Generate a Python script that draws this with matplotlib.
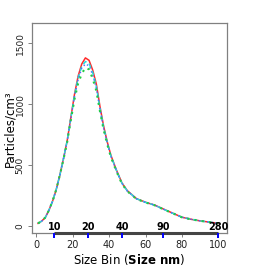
import numpy as np
import matplotlib.pyplot as plt

# size bins (x) and particle number concentration for the four runs
x = [1, 3, 5, 7, 9, 11, 13, 15, 17, 19, 21, 23, 25, 27, 29, 31, 33, 35,
     37, 39, 41, 44, 47, 50, 55, 60, 65, 70, 75, 80, 85, 90, 95, 100]
red = [22, 40, 70, 130, 205, 300, 420, 555, 700, 890, 1080, 1230, 1330, 1380,
       1360, 1280, 1165, 980, 820, 690, 580, 460, 355, 290, 225, 195, 172, 138,
       105, 72, 55, 42, 32, 22]
cyan = [22, 40, 70, 130, 205, 300, 420, 555, 700, 885, 1070, 1215, 1310, 1350,
        1335, 1260, 1145, 965, 810, 685, 575, 458, 353, 288, 224, 194, 171, 137,
        104, 72, 55, 42, 32, 22]
blue = [22, 40, 70, 130, 205, 300, 420, 555, 700, 880, 1060, 1200, 1295, 1330,
        1315, 1240, 1130, 955, 800, 680, 572, 455, 352, 287, 224, 194, 171, 137,
        104, 72, 55, 42, 32, 22]
green = [22, 40, 70, 130, 205, 300, 420, 550, 690, 870, 1040, 1170, 1250, 1300,
         1285, 1210, 1110, 940, 790, 670, 565, 450, 348, 285, 222, 193, 170, 136,
         104, 71, 55, 42, 32, 22]

# size (nm) axis: bin positions and labels
nm_pos = [10, 28.6, 47.2, 69.7, 100]
nm_lab = ['10', '20', '40', '90', '280']

fig = plt.figure(figsize=(2.73, 2.73), dpi=100)
ax = fig.add_axes([0.116, 0.1454, 0.714, 0.7693])

ax.plot(x, red, color='#ff2a2a', lw=1.1, ls='-')
ax.plot(x, cyan, color='#22dddd', lw=1.1, ls=(0, (3, 2)))
ax.plot(x, blue, color='#4b6bff', lw=1.0, ls=(0, (1, 2)))
ax.plot(x, green, color='#22cc44', lw=1.5, ls=(0, (1, 2.5)))

ymin, ymax = -60, 1664
ax.set_xlim(-2.5, 104.5)
ax.set_ylim(ymin, ymax)
for s in ax.spines.values():
    s.set_color('#808080')
    s.set_linewidth(0.9)

ax.set_xticks([0, 20, 40, 60, 80, 100])
ax.set_yticks([0, 500, 1000, 1500])
ax.tick_params(axis='both', colors='#808080', labelcolor='#222222',
               labelsize=7, length=3, width=0.7, pad=1.5)
ax.tick_params(axis='y', labelsize=6.5, pad=2)
for lab in ax.get_yticklabels():
    lab.set_rotation(90)
    lab.set_va('center')

# secondary nm axis along the bottom of the box
ax.plot([nm_pos[0], nm_pos[-1]], [ymin, ymin], color='#444444', lw=2.2,
        clip_on=False, solid_capstyle='butt', zorder=5)
ax.vlines(nm_pos, ymin - 40, ymin + 5, colors='blue', lw=1.4, clip_on=False,
          zorder=7)
for p, l in zip(nm_pos, nm_lab):
    ax.annotate(l, xy=(p, ymin), xytext=(0, 1.2), textcoords='offset points',
                ha='center', va='bottom', fontsize=7, fontweight='bold',
                annotation_clip=False)

ax.set_xlabel(r'Size Bin ($\mathbf{Size\ nm}$)', fontsize=8.5, labelpad=2)
ax.set_ylabel('Particles/cm³', fontsize=8.5)
ax.yaxis.set_label_coords(-0.08, 0.5)

fig.savefig('out.png', dpi=100)
